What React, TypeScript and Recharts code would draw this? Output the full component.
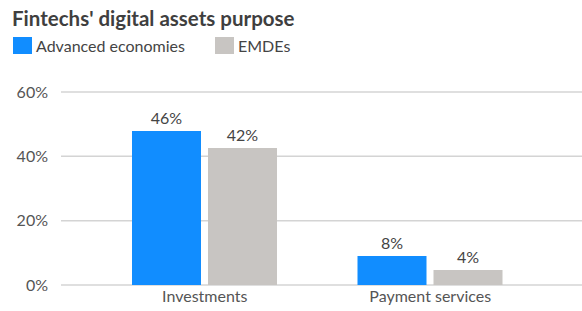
import { BarChart, Bar, XAxis, YAxis, CartesianGrid, LabelList } from "recharts";

const categories = ["Investments", "Payment services"];
const advancedValues = [47.9, 9.0];
const emdeValues = [42.6, 4.7];
const advancedLabels = ["46%", "8%"];
const emdeLabels = ["42%", "4%"];
const yTicks = [0, 20, 40, 60];

const BLUE = "#118DFF";
const GRAY = "#C8C5C2";
const FONT = "Lato, 'Open Sans', sans-serif";

const data = categories.map((name, i) => ({
  name,
  advanced: advancedValues[i],
  emde: emdeValues[i],
  advancedLabel: advancedLabels[i],
  emdeLabel: emdeLabels[i],
}));

function LegendItem({ color, label, left }: { color: string; label: string; left: number }) {
  return (
    <div style={{ position: "absolute", left, top: 37, display: "flex", alignItems: "center" }}>
      <div style={{ width: 19, height: 17, background: color }} />
      <span style={{ marginLeft: 4, fontSize: 16, color: "#444", lineHeight: "17px" }}>{label}</span>
    </div>
  );
}

export default function App() {
  return (
    <div
      style={{
        position: "absolute",
        left: 0,
        top: 0,
        width: 582,
        height: 311,
        background: "#fff",
        fontFamily: FONT,
        overflow: "hidden",
      }}
    >
      <div
        style={{
          position: "absolute",
          left: 12,
          top: 6,
          fontSize: 20.5,
          fontWeight: 700,
          color: "#3f3f3f",
          lineHeight: "24px",
        }}
      >
        Fintechs' digital assets purpose
      </div>
      <LegendItem color={BLUE} label="Advanced economies" left={13} />
      <LegendItem color={GRAY} label="EMDEs" left={215} />

      <div style={{ position: "absolute", left: 0, top: 0 }}>
        <BarChart
          width={582}
          height={311}
          data={data}
          margin={{ top: 92, right: 0, bottom: 0, left: 0 }}
          barSize={69}
          barGap={7}
        >
          <CartesianGrid vertical={false} stroke="#d4d4d4" strokeWidth={1.5} />
          <XAxis
            dataKey="name"
            height={26}
            axisLine={false}
            tickLine={false}
            tickSize={0}
            tickMargin={6}
            padding={{ left: 31, right: 39 }}
            tick={{ fontSize: 16, fill: "#555", fontFamily: FONT }}
          />
          <YAxis
            width={61}
            domain={[0, 60]}
            ticks={yTicks}
            axisLine={false}
            tickLine={false}
            tickSize={0}
            tickMargin={13}
            tickFormatter={(v: number) => `${v}%`}
            tick={{ fontSize: 16, fill: "#555", fontFamily: FONT }}
          />
          <Bar dataKey="advanced" fill={BLUE} isAnimationActive={false}>
            <LabelList
              dataKey="advancedLabel"
              position="top"
              offset={7}
              style={{ fontSize: 16, fill: "#444", fontFamily: FONT }}
            />
          </Bar>
          <Bar dataKey="emde" fill={GRAY} isAnimationActive={false}>
            <LabelList
              dataKey="emdeLabel"
              position="top"
              offset={7}
              style={{ fontSize: 16, fill: "#444", fontFamily: FONT }}
            />
          </Bar>
        </BarChart>
      </div>
    </div>
  );
}
